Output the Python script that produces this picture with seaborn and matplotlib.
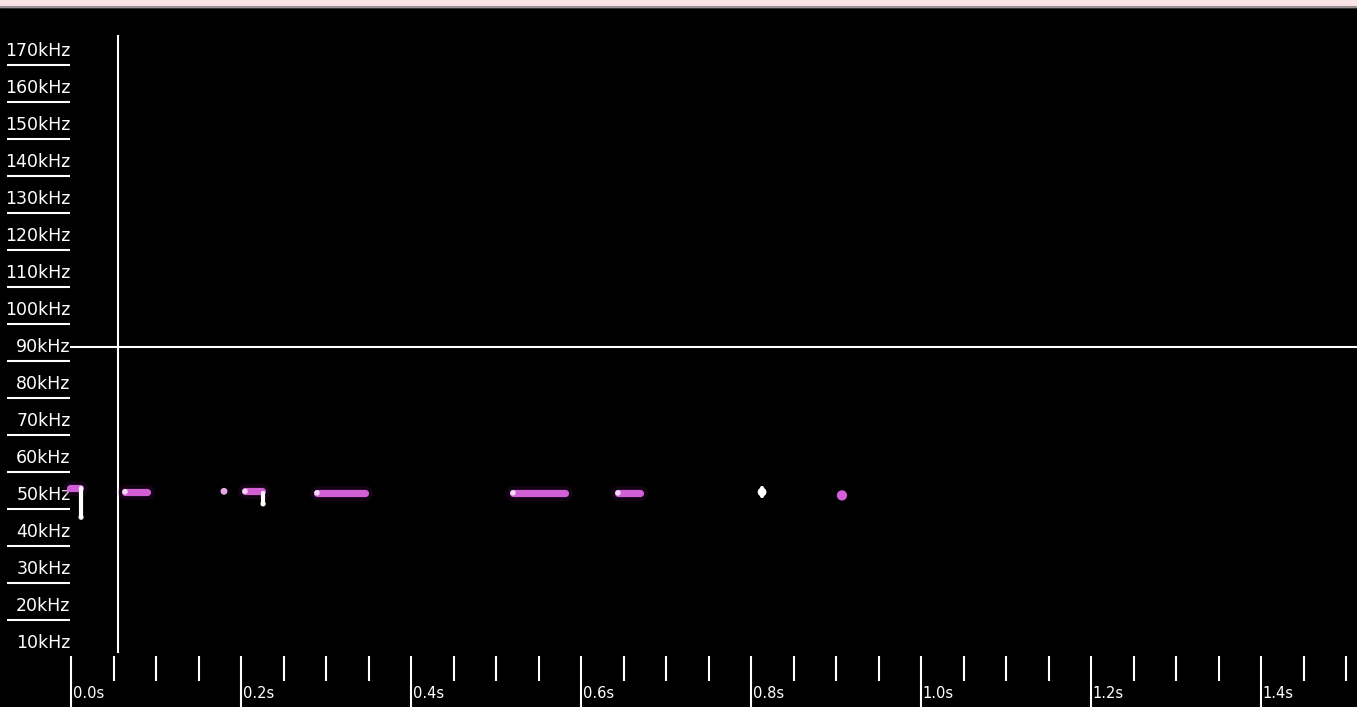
import numpy as np
import pandas as pd
import matplotlib
matplotlib.use("Agg")
import matplotlib.pyplot as plt
import seaborn as sns

# Frequency axis labels (kHz) and time axis labels (s)
freq_labels_khz = [170, 160, 150, 140, 130, 120, 110, 100, 90, 80, 70, 60, 50, 40, 30, 20, 10]
time_major_s = [0.0, 0.2, 0.4, 0.6, 0.8, 1.0, 1.2, 1.4]
time_minor_s = [round(0.05 * k, 2) for k in range(1, 31)]

# Detected call segments: start time, end time (s), frequency (kHz)
call_start = [-0.001, 0.0635, 0.2047, 0.2894, 0.5200, 0.6435]
call_end = [0.0106, 0.0894, 0.2247, 0.3459, 0.5812, 0.6694]
call_freq = [52.0, 50.9, 51.0, 50.6, 50.6, 50.6]

# Short isolated pulses (time s, frequency kHz)
dot_time = [0.180, 0.907]
dot_freq = [51.0, 49.9]

# Downward sweeps at call ends: time (s), start freq, end freq (kHz)
sweep_time = [0.0118, 0.2260, 0.8130]
sweep_f0 = [52.0, 50.5, 51.8]
sweep_f1 = [44.0, 47.6, 49.8]

# Cursor positions
cursor_time = 0.0557
cursor_freq = 90.0

sns.set_style("dark", {"axes.facecolor": "black", "figure.facecolor": "black"})
plt.rcParams["font.family"] = ["DejaVu Sans"]

fig = plt.figure(figsize=(13.57, 7.07), dpi=100)
ax = fig.add_axes([0, 0, 1, 1])
ax.set_facecolor("black")
ax.set_xlim(-0.08353, 1.51294)
ax.set_ylim(-7.3, 183.8)
ax.axis("off")

pink = "#d35fd6"

# Window strip along the top
ax.axhspan(182.0, 183.8, color="#fbe3e8", zorder=5)
ax.axhline(181.9, color="#9a9096", lw=1.5, zorder=5)

# Frequency labels with their underlines
for f in freq_labels_khz:
    ax.text(-0.0005, f, f"{f}kHz", color="white", fontsize=12.5,
            ha="right", va="center", zorder=4)
    if f >= 20:
        ax.hlines(f - 3.8, -0.0753, -0.0012, color="white", lw=1.5, zorder=4)

# Time ticks and labels
ax.vlines(time_major_s, -7.3, 6.5, color="white", lw=1.5, zorder=4)
minor = [t for t in time_minor_s if round(t / 0.2, 6) % 1 != 0]
ax.vlines(minor, -0.27, 6.5, color="white", lw=1.5, zorder=4)
for t in time_major_s:
    ax.text(t + 0.002, -3.6, f"{t:.1f}s", color="white", fontsize=10.5,
            ha="left", va="center", zorder=4)

# Cursor cross-hair
ax.hlines(cursor_freq, -0.0012, 1.513, color="white", lw=1.5, zorder=3)
ax.vlines(cursor_time, 7.3, 174.3, color="white", lw=1.5, zorder=3)

# Call segments drawn as lines, one unit per call
rows = []
for i, (s, e, f) in enumerate(zip(call_start, call_end, call_freq)):
    rows.append({"call": i, "time": s, "freq": f})
    rows.append({"call": i, "time": e, "freq": f})
calls = pd.DataFrame(rows)

# soft glow beneath each call
sns.lineplot(data=calls, x="time", y="freq", units="call", estimator=None,
             color="#4a124a", lw=11, alpha=0.25, ax=ax, legend=False, zorder=5,
             solid_capstyle="round")
sns.lineplot(data=calls, x="time", y="freq", units="call", estimator=None,
             color=pink, lw=5.2, ax=ax, legend=False, zorder=6,
             solid_capstyle="round")
# bright onset at each call
sns.scatterplot(x=call_start[1:], y=call_freq[1:], color="#f4d8f4", s=16,
                edgecolor="none", ax=ax, zorder=7)

# Isolated pulses
dots = pd.DataFrame({"time": dot_time, "freq": dot_freq})
sns.scatterplot(data=dots, x="time", y="freq", color=["#e6a8e6", pink],
                s=[25, 55], edgecolor="none", ax=ax, zorder=6)

# Downward sweeps
sweeps = pd.DataFrame({
    "sweep": list(range(len(sweep_time))) * 2,
    "time": sweep_time * 2,
    "freq": sweep_f0 + sweep_f1,
})
sns.lineplot(data=sweeps, x="time", y="freq", units="sweep", estimator=None,
             color="white", lw=3, ax=ax, legend=False, zorder=7,
             solid_capstyle="round")
sns.scatterplot(x=sweep_time[2:], y=[(sweep_f0[2] + sweep_f1[2]) / 2],
                color="white", s=40, edgecolor="none", ax=ax, zorder=7)
sns.scatterplot(x=sweep_time[:2], y=sweep_f1[:2], color="white", s=14,
                edgecolor="none", ax=ax, zorder=7)

ax.set_xlim(-0.08353, 1.51294)
ax.set_ylim(-7.3, 183.8)
fig.savefig("out.png", dpi=100, facecolor="black")
